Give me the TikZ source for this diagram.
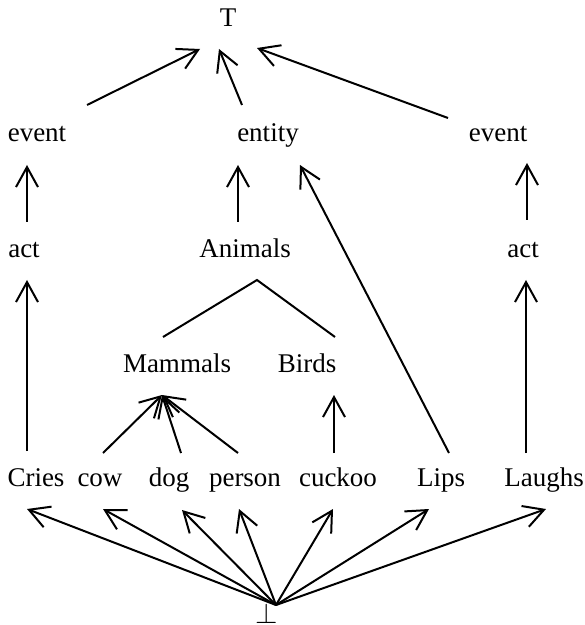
\documentclass[tikz,border=0pt]{standalone}
\usepackage{fontspec}
\setmainfont{Liberation Serif}
\usetikzlibrary{arrows.meta}
\begin{document}
\begin{tikzpicture}[x=0.5pt,y=-0.5pt,
  lbl/.style={anchor=base,inner sep=0pt,font=\fontsize{13.5}{16}\selectfont},
  arr/.style={line width=1pt,-{Straight Barb[length=10pt,width=11pt]}},
  ln/.style={line width=1pt}]
\useasboundingbox (0,0) rectangle (584,625);
% nodes
\node[lbl] (T) at (228,27) {T};
\node[lbl] (evL) at (37,142) {event};
\node[lbl] (ent) at (268,142) {entity};
\node[lbl] (evR) at (498,142) {event};
\node[lbl] (actL) at (24,257) {act};
\node[lbl] (Anim) at (245,257) {Animals};
\node[lbl] (actR) at (523,257) {act};
\node[lbl] (Mam) at (177,372) {Mammals};
\node[lbl] (Birds) at (307,372) {Birds};
\node[lbl] (Cries) at (36,486) {Cries};
\node[lbl] (cow) at (100,486) {cow};
\node[lbl] (dog) at (169,486) {dog};
\node[lbl] (person) at (245,486) {person};
\node[lbl] (cuckoo) at (338,486) {cuckoo};
\node[lbl] (Lips) at (441,486) {Lips};
\node[lbl] (Laughs) at (544,486) {Laughs};
\node[lbl] (bot) at (267,623) {$\bot$};
% top arrows
\draw[arr] ([shift={(50,-37)}]evL.base) -- ([shift={(-28,22)}]T.base);
\draw[arr] ([shift={(-26,-37)}]ent.base) -- ([shift={(-9,22)}]T.base);
\draw[arr] ([shift={(-50,-24)}]evR.base) -- ([shift={(29,21)}]T.base);
% second level
\draw[arr] ([shift={(3,-35)}]actL.base) -- ([shift={(-10,23)}]evL.base);
\draw[arr] ([shift={(-7,-35)}]Anim.base) -- ([shift={(-30,23)}]ent.base);
\draw[arr] ([shift={(4,-37)}]actR.base) -- ([shift={(29,21)}]evR.base);
% act arrows
\draw[arr] ([shift={(-9,-35)}]Cries.base) -- ([shift={(3,23)}]actL.base);
\draw[arr] ([shift={(-18,-33)}]Laughs.base) -- ([shift={(3,23)}]actR.base);
% Animals split
\draw[ln] ([shift={(-14,-35)}]Mam.base) -- ([shift={(12,23)}]Anim.base) -- ([shift={(28,-35)}]Birds.base);
% Mammals
\draw[arr] ([shift={(3,-33)}]cow.base) -- ([shift={(-15,23)}]Mam.base);
\draw[arr] ([shift={(12,-33)}]dog.base) -- ([shift={(-15,23)}]Mam.base);
\draw[arr] ([shift={(-7,-33)}]person.base) -- ([shift={(-15,23)}]Mam.base);
% Birds
\draw[arr] ([shift={(-4,-33)}]cuckoo.base) -- ([shift={(27,23)}]Birds.base);
% Lips to entity
\draw[arr] ([shift={(8,-33)}]Lips.base) -- ([shift={(32,23)}]ent.base);
% bottom
\draw[arr] ([shift={(9,-18)}]bot.base) -- ([shift={(-9,23)}]Cries.base);
\draw[arr] ([shift={(9,-18)}]bot.base) -- ([shift={(3,23)}]cow.base);
\draw[arr] ([shift={(9,-18)}]bot.base) -- ([shift={(13,24)}]dog.base);
\draw[arr] ([shift={(9,-18)}]bot.base) -- ([shift={(-6,23)}]person.base);
\draw[arr] ([shift={(9,-18)}]bot.base) -- ([shift={(-5,23)}]cuckoo.base);
\draw[arr] ([shift={(9,-18)}]bot.base) -- ([shift={(-12,23)}]Lips.base);
\draw[arr] ([shift={(9,-18)}]bot.base) -- ([shift={(2,23)}]Laughs.base);
\end{tikzpicture}
\end{document}
